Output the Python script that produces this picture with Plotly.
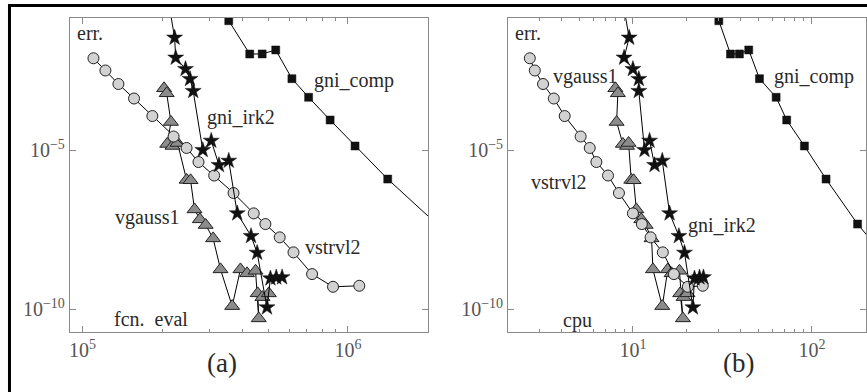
import plotly.graph_objects as go
from plotly.subplots import make_subplots

# ---------------- data ----------------
# vstrvl2 (circles)
circ_err = [7.66e-3, 3.16e-3, 1.19e-3, 4.16e-4, 1.17e-4, 2.66e-5, 1.16e-5, 4.2e-6, 1.58e-6,
            4.45e-7, 1.02e-7, 4.71e-8, 1.80e-8, 6.07e-9, 1.26e-9, 5.02e-10, 5.41e-10]
circ_fcn = [1.099e5, 1.219e5, 1.365e5, 1.563e5, 1.832e5, 2.203e5, 2.466e5, 2.735e5, 3.133e5,
            3.707e5, 4.416e5, 4.887e5, 5.534e5, 6.237e5, 7.328e5, 8.79e5, 1.104e6]
circ_cpu = [2.655, 2.831, 3.148, 3.614, 4.159, 5.105, 5.741, 6.252, 7.261,
            8.356, 10.0, 11.22, 12.56, 14.69, 16.94, 20.28, 24.55]

# gni_irk2 (stars)
star_err = [4.51e-1, 3.40e-2, 8.0e-3, 3.52e-3, 1.71e-3, 7.16e-4, 1.0e-5, 1.96e-5, 3.37e-6,
            4.61e-6, 1.02e-7, 1.98e-8, 5.89e-9, 1.13e-10, 9.23e-10, 9.9e-10, 1.0e-9]
star_fcn = [2.109e5, 2.223e5, 2.244e5, 2.443e5, 2.541e5, 2.612e5, 2.838e5, 3.055e5, 3.266e5,
            3.556e5, 3.828e5, 4.315e5, 4.55e5, 4.955e5, 5.105e5, 5.37e5, 5.649e5]
star_cpu = [8.79, 9.53, 8.93, 10.0, 10.79, 10.79, 11.61, 12.39, 13.21,
            14.59, 16.03, 18.07, 19.41, 21.63, 22.08, 23.55, 24.77]

# vgauss1 (triangles)
tri_err = [8.71e-4, 6.07e-4, 7.60e-5, 1.55e-5, 1.34e-5, 1.66e-5, 1.15e-6, 1.12e-6, 1.36e-7,
           6.62e-8, 4.39e-8, 1.67e-8, 1.77e-9, 1.24e-10, 1.77e-9, 1.33e-9, 1.60e-9,
           5.1e-11, 3.12e-10, 2.38e-10, 3.12e-10]
tri_fcn = [2.028e5, 2.075e5, 2.153e5, 2.084e5, 2.183e5, 2.28e5, 2.466e5, 2.553e5, 2.642e5,
           2.767e5, 2.911e5, 3.105e5, 3.311e5, 3.664e5, 3.936e5, 4.169e5, 4.487e5,
           4.613e5, 4.571e5, 4.764e5, 5.035e5]
tri_cpu = [7.98, 8.24, 8.11, 8.79, 9.27, 9.46, 9.79, 10.09, 10.45,
           11.14, 11.78, 12.71, 12.94, 14.59, 15.67, 16.44, 18.2,
           19.01, 18.37, 19.19, 20.18]

# gni_comp (squares)
sq_err = [1.16e-1, 1.04e-2, 1.05e-2, 1.40e-2, 1.75e-3, 4.54e-4, 8.77e-5, 1.34e-5, 1.22e-6,
          4.71e-8, 5.0e-9]
sq_fcn = [3.556e5, 4.266e5, 4.753e5, 5.346e5, 6.152e5, 7.112e5, 8.57e5, 1.064e6, 1.413e6,
          2.163e6, 2.95e6]
sq_cpu = [30.2, 35.08, 39.36, 44.36, 50.93, 63.1, 72.28, 90.78, 119.9, 179.9, 251.0]

xtick_a = [1e5, 1e6]
xtick_a_text = ["10<sup>5</sup>", "10<sup>6</sup>"]
xtick_b = [10, 100]
xtick_b_text = ["10<sup>1</sup>", "10<sup>2</sup>"]
ytick = [1e-5, 1e-10]
ytick_text = ["10<sup>\u22125</sup>", "10<sup>\u221210</sup>"]

# ---------------- figure ----------------
W, H = 867, 392
FONT = "Liberation Serif"
AX = "#8a8a8a"

fig = make_subplots(rows=1, cols=2)


def add_panel(col, xs_c, xs_s, xs_t, xs_q):
    fig.add_trace(go.Scatter(x=xs_t, y=tri_err, mode="lines+markers",
                             line=dict(color="black", width=1),
                             marker=dict(symbol="triangle-up", size=13, color="#8c8c8c",
                                         line=dict(color="#222", width=1))),
                  row=1, col=col)
    fig.add_trace(go.Scatter(x=xs_c, y=circ_err, mode="lines+markers",
                             line=dict(color="black", width=1),
                             marker=dict(symbol="circle", size=11, color="#d2d2d2",
                                         line=dict(color="#222", width=1))),
                  row=1, col=col)
    fig.add_trace(go.Scatter(x=xs_s, y=star_err, mode="lines+markers",
                             line=dict(color="black", width=1),
                             marker=dict(symbol="star", size=12, color="#111",
                                         line=dict(color="#111", width=0.5))),
                  row=1, col=col)
    fig.add_trace(go.Scatter(x=xs_q, y=sq_err, mode="lines+markers",
                             line=dict(color="black", width=1),
                             marker=dict(symbol="square", size=8, color="#111",
                                         line=dict(color="#111", width=0.5))),
                  row=1, col=col)


add_panel(1, circ_fcn, star_fcn, tri_fcn, sq_fcn)
add_panel(2, circ_cpu, star_cpu, tri_cpu, sq_cpu)

minor_a = [k * 1e5 for k in range(1, 10)] + [2e6]
minor_b = [k for k in range(2, 10)] + [k * 10 for k in range(2, 10)] + [200]

common_x = dict(type="log", showline=True, linecolor=AX, linewidth=1, mirror="allticks",
                ticks="inside", ticklen=6, tickcolor=AX, showgrid=False, zeroline=False,
                tickfont=dict(family=FONT, size=20, color="#555"))
common_y = dict(type="log", showline=True, linecolor=AX, linewidth=1, mirror="allticks",
                ticks="inside", ticklen=6, tickcolor=AX, showgrid=False, zeroline=False,
                range=[-10.72, -0.85], tickvals=ytick, ticktext=ytick_text,
                tickfont=dict(family=FONT, size=20, color="#555"))

fig.update_xaxes(**common_x, range=[4.952, 6.302], tickvals=xtick_a, ticktext=xtick_a_text,
                 minor=dict(ticks="inside", ticklen=3, tickcolor=AX, tickvals=minor_a),
                 domain=[69 / W, 428 / W], row=1, col=1)
fig.update_xaxes(**common_x, range=[0.303, 2.302], tickvals=xtick_b, ticktext=xtick_b_text,
                 minor=dict(ticks="inside", ticklen=3, tickcolor=AX, tickvals=minor_b),
                 domain=[508.3 / W, 1.0], row=1, col=2)
fig.update_yaxes(**common_y, domain=[1 - 332 / H, 1 - 18 / H], row=1, col=1)
fig.update_yaxes(**common_y, domain=[1 - 332 / H, 1 - 18 / H], row=1, col=2)

labels = [
    ("err.", 74, 33, "left", 20),
    ("gni_irk2", 241, 117, "center", 20),
    ("gni_comp", 353.5, 80, "center", 20),
    ("vgauss1", 146.5, 217, "center", 20),
    ("vstrvl2", 333, 247, "center", 20),
    ("fcn.&nbsp;&nbsp;eval", 150, 319, "center", 20),
    ("(a)", 222, 363, "center", 27),
    ("err.", 512.7, 33, "left", 20),
    ("vgauss1", 585.5, 76, "center", 20),
    ("gni_comp", 815, 77, "center", 20),
    ("vstrvl2", 559, 182, "center", 20),
    ("gni_irk2", 723, 225, "center", 20),
    ("cpu", 578, 320, "center", 20),
    ("(b)", 739, 363, "center", 27),
]
for txt, px, py, anc, fs in labels:
    fig.add_annotation(text=txt, x=px / W, y=1 - py / H, xref="paper", yref="paper",
                       xanchor=anc, yanchor="middle", showarrow=False,
                       font=dict(family=FONT, size=fs, color="#2a2a2a"))

# outer frame
fig.add_shape(type="rect", xref="paper", yref="paper",
              x0=8.5 / W, x1=1.0 + 10 / W, y0=-10 / H, y1=1 - 5.5 / H,
              line=dict(color="black", width=3), fillcolor="rgba(0,0,0,0)")

fig.update_layout(width=W, height=H, margin=dict(l=0, r=0, t=0, b=0),
                  paper_bgcolor="white", plot_bgcolor="white", showlegend=False)

fig.write_html("out.html", config={"displayModeBar": False},
               post_script="document.body.style.margin='0px';"
                           "document.body.style.overflow='hidden';")
